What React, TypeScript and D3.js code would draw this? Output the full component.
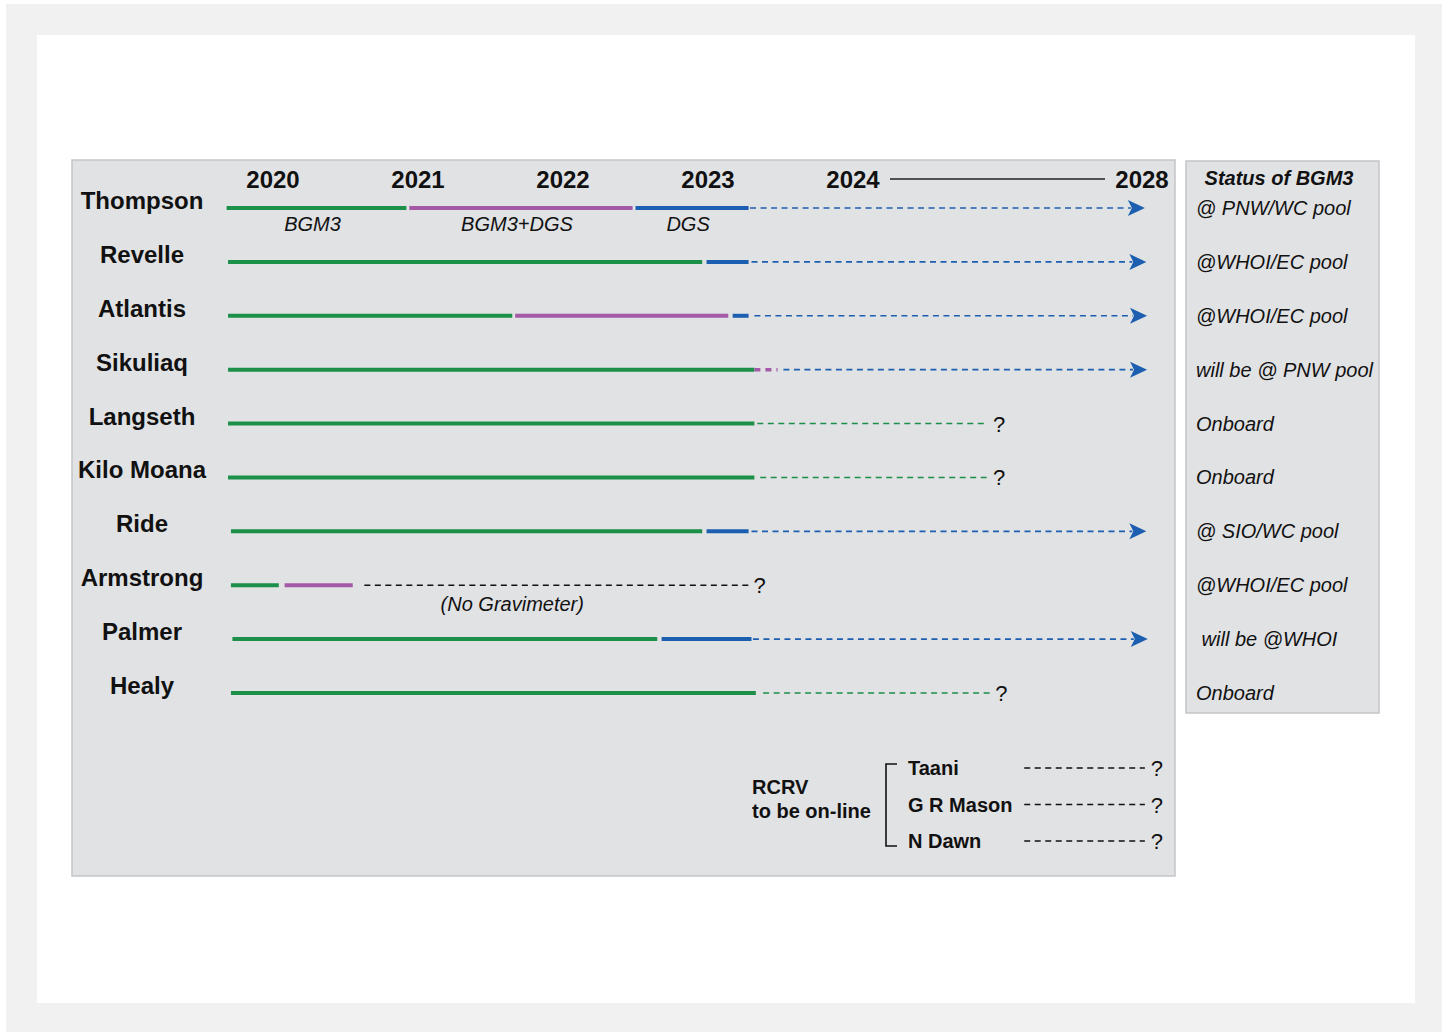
import * as d3 from "d3";

// ships, top to bottom
const ships = [
  "Thompson",
  "Revelle",
  "Atlantis",
  "Sikuliaq",
  "Langseth",
  "Kilo Moana",
  "Ride",
  "Armstrong",
  "Palmer",
  "Healy",
];

const yearTicks = [2020, 2021, 2022, 2023, 2024, 2028];

// solid bars: [ship, from, to, phase]
const solidBars: [string, number, number, string][] = [
  ["Thompson", 2019.68, 2020.92, "BGM3"],
  ["Thompson", 2020.94, 2022.48, "BGM3+DGS"],
  ["Thompson", 2022.5, 2023.28, "DGS"],
  ["Revelle", 2019.69, 2022.96, "BGM3"],
  ["Revelle", 2022.99, 2023.28, "DGS"],
  ["Atlantis", 2019.69, 2021.65, "BGM3"],
  ["Atlantis", 2021.67, 2023.14, "BGM3+DGS"],
  ["Atlantis", 2023.17, 2023.28, "DGS"],
  ["Sikuliaq", 2019.69, 2023.32, "BGM3"],
  ["Langseth", 2019.69, 2023.32, "BGM3"],
  ["Kilo Moana", 2019.69, 2023.32, "BGM3"],
  ["Ride", 2019.71, 2022.96, "BGM3"],
  ["Ride", 2022.99, 2023.28, "DGS"],
  ["Armstrong", 2019.71, 2020.04, "BGM3"],
  ["Armstrong", 2020.08, 2020.55, "BGM3+DGS"],
  ["Palmer", 2019.72, 2022.65, "BGM3"],
  ["Palmer", 2022.68, 2023.3, "DGS"],
  ["Healy", 2019.71, 2023.33, "BGM3"],
];

// dashed continuations: [ship, from, to, phase, end]
const dashedBars: [string, number, number, string, string][] = [
  ["Thompson", 2023.29, 2028.04, "DGS", "arrow"],
  ["Revelle", 2023.3, 2028.06, "DGS", "arrow"],
  ["Atlantis", 2023.32, 2028.07, "DGS", "arrow"],
  ["Sikuliaq", 2023.32, 2023.48, "BGM3+DGS", "none"],
  ["Sikuliaq", 2023.52, 2028.07, "DGS", "arrow"],
  ["Langseth", 2023.34, 2025.87, "BGM3", "?"],
  ["Kilo Moana", 2023.36, 2025.87, "BGM3", "?"],
  ["Ride", 2023.3, 2028.06, "DGS", "arrow"],
  ["Armstrong", 2020.63, 2023.28, "none", "?"],
  ["Palmer", 2023.31, 2028.08, "DGS", "arrow"],
  ["Healy", 2023.38, 2025.9, "BGM3", "?"],
];

const notes: [string, number, string][] = [["Armstrong", 2021.65, "(No Gravimeter)"]];

const status = [
  "@ PNW/WC pool",
  "@WHOI/EC pool",
  "@WHOI/EC pool",
  "will be @ PNW pool",
  "Onboard",
  "Onboard",
  "@ SIO/WC pool",
  "@WHOI/EC pool",
  " will be @WHOI",
  "Onboard",
];

const rcrvShips = ["Taani", "G R Mason", "N Dawn"];
const rcrvFrom = 2026.37;
const rcrvTo = 2028.04;

const FONT = "'Liberation Sans', Arial, Helvetica, sans-serif";

export default function App() {
  const x = d3.scaleLinear().domain([2020, 2024, 2028]).range([273, 853, 1142]);
  const y = d3.scalePoint<string>().domain(ships).range([208, 693]);
  const yr = d3.scalePoint<string>().domain(rcrvShips).range([768, 841]);
  const color = d3
    .scaleOrdinal<string, string>()
    .domain(["BGM3", "BGM3+DGS", "DGS", "none"])
    .range(["#1c8f48", "#a55aa8", "#1c5fb0", "#111111"]);

  const arrow = (tx: number, ty: number) =>
    `M${tx},${ty} L${tx - 17},${ty - 8} L${tx - 13},${ty} L${tx - 17},${ty + 8} Z`;

  return (
    <div style={{ position: "fixed", left: 0, top: 0 }}>
      <svg width={1448} height={1034} style={{ display: "block", fontFamily: FONT }}>
        <rect width={1448} height={1034} fill="#ffffff" />
        <rect x={6} y={4} width={1436} height={1028} fill="#f1f1f1" />
        <rect x={37} y={35} width={1378} height={968} fill="#ffffff" />

        {/* main panel */}
        <rect x={72} y={160} width={1103} height={716} fill="#e1e2e4" stroke="#c4c5c7" strokeWidth={1.5} />
        {/* status panel */}
        <rect x={1186} y={161} width={193} height={552} fill="#e1e2e4" stroke="#c4c5c7" strokeWidth={1.5} />

        {/* year header */}
        {yearTicks.map((t) => (
          <text key={t} x={x(t)} y={188} textAnchor="middle" fontSize={24} fontWeight="bold" fill="#111">
            {t}
          </text>
        ))}
        <line x1={x(2024) + 37} x2={x(2028) - 37} y1={179} y2={179} stroke="#222" strokeWidth={1.5} />

        {/* ship names */}
        {ships.map((s) => (
          <text key={s} x={142} y={(y(s) ?? 0) + 1} textAnchor="middle" fontSize={24} fontWeight="bold" fill="#111">
            {s}
          </text>
        ))}

        {/* solid bars */}
        {solidBars.map(([s, a, b, p], i) => (
          <line key={i} x1={x(a)} x2={x(b)} y1={y(s)} y2={y(s)} stroke={color(p)} strokeWidth={4} />
        ))}

        {/* dashed continuations */}
        {dashedBars.map(([s, a, b, p, end], i) => {
          const yy = y(s) ?? 0;
          const purple = p === "BGM3+DGS";
          return (
            <g key={i}>
              <line
                x1={x(a)}
                x2={end === "arrow" ? x(b) - 14 : x(b)}
                y1={yy}
                y2={yy}
                stroke={color(p)}
                strokeWidth={purple ? 3.5 : 1.6}
                strokeDasharray={purple ? "6 5" : "6 4.5"}
              />
              {end === "arrow" && <path d={arrow(x(b), yy)} fill={color(p)} />}
              {end === "?" && (
                <text x={x(b) + 11} y={yy + 8} textAnchor="middle" fontSize={22} fill="#111">
                  ?
                </text>
              )}
            </g>
          );
        })}

        {/* phase labels under Thompson */}
        {solidBars
          .filter(([s]) => s === "Thompson")
          .map(([s, a, b, p]) => (
            <text
              key={p}
              x={(x(a) + x(b)) / 2 - 4}
              y={(y(s) ?? 0) + 23}
              textAnchor="middle"
              fontSize={20}
              fontStyle="italic"
              fill="#111"
            >
              {p}
            </text>
          ))}

        {notes.map(([s, t, txt]) => (
          <text key={txt} x={x(t)} y={(y(s) ?? 0) + 26} textAnchor="middle" fontSize={20} fontStyle="italic" fill="#111">
            {txt}
          </text>
        ))}

        {/* status panel */}
        <text x={1279} y={185} textAnchor="middle" fontSize={20} fontWeight="bold" fontStyle="italic" fill="#111">
          Status of BGM3
        </text>
        {status.map((t, i) => (
          <text
            key={i}
            x={1196}
            y={(y(ships[i]) ?? 0) + 7}
            fontSize={20}
            fontStyle="italic"
            fill="#111"
            style={{ whiteSpace: "pre" }}
          >
            {t}
          </text>
        ))}

        {/* RCRV */}
        <text x={752} y={794} fontSize={20} fontWeight="bold" fill="#111">
          RCRV
        </text>
        <text x={752} y={818} fontSize={20} fontWeight="bold" fill="#111">
          to be on-line
        </text>
        <path d="M897,764 H886 V846 H897" fill="none" stroke="#111" strokeWidth={1.6} />
        {rcrvShips.map((s) => {
          const yy = yr(s) ?? 0;
          return (
            <g key={s}>
              <text x={908} y={yy + 7} fontSize={20} fontWeight="bold" fill="#111">
                {s}
              </text>
              <line x1={x(rcrvFrom)} x2={x(rcrvTo)} y1={yy} y2={yy} stroke="#111" strokeWidth={1.5} strokeDasharray="6 4.5" />
              <text x={x(rcrvTo) + 12} y={yy + 8} textAnchor="middle" fontSize={22} fill="#111">
                ?
              </text>
            </g>
          );
        })}
      </svg>
    </div>
  );
}
